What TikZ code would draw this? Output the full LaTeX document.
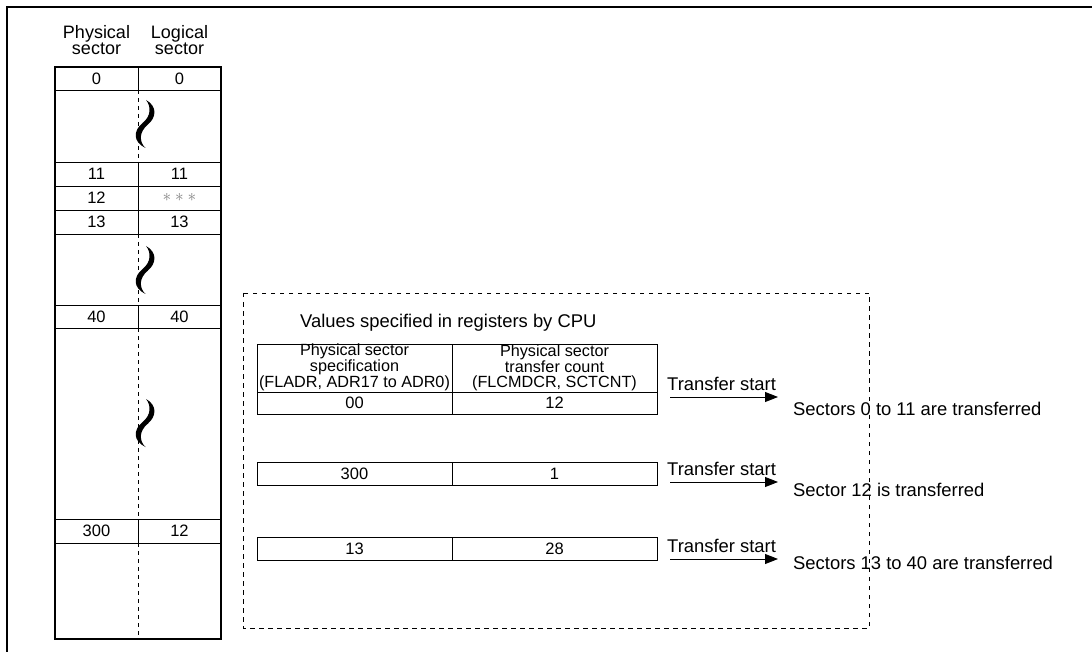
\documentclass[tikz,border=0pt]{standalone}
\usepackage{fontspec}
\setmainfont{Liberation Sans}
\usetikzlibrary{arrows.meta}
\begin{document}
\begin{tikzpicture}[x=1pt,y=-1pt,
  txt/.style={font=\fontsize{18.4}{18.4}\selectfont, inner sep=0pt},
  num/.style={font=\fontsize{16.5}{16.5}\selectfont, inner sep=0pt},
  lhdr/.style={font=\fontsize{18}{16}\selectfont, inner sep=0pt, align=center},
  hdr/.style={font=\fontsize{16.2}{15}\selectfont, inner sep=0pt, align=center},
  frameline/.style={line width=2pt},
  thickline/.style={line width=2.4pt},
  thinline/.style={line width=0.9pt},
  dashline/.style={line width=0.9pt, dash pattern=on 4pt off 4pt},
  boxdash/.style={line width=0.8pt, dash pattern=on 4.5pt off 4.5pt},
  arr/.style={line width=0.9pt, -{Triangle[length=13pt,width=10pt]}}]
\useasboundingbox (0,0) rectangle (1092,652);
% outer frame
\draw[frameline] (7,652) -- (7,7) -- (1092,7);

% ---------- left table ----------
\node[lhdr] (hps) at (96.5,40) {Physical\\sector};
\node[lhdr] (hls) at (179.5,40) {Logical\\sector};
\foreach \y in {90,162,186,210,234,305,328,519,543} \draw[thinline] (55,\y) -- (221,\y);
\draw[thinline] (138,67) -- (138,90);
\draw[thinline] (138,162) -- (138,234);
\draw[thinline] (138,305) -- (138,328);
\draw[thinline] (138,519) -- (138,543);
\draw[dashline] (138,90) -- (138,162);
\draw[dashline] (138,234) -- (138,305);
\draw[dashline] (138,328) -- (138,519);
\draw[dashline] (138,543) -- (138,639);
\draw[thickline] (55,67) rectangle (221,639);
% tildes (tapered filled S-curves)
\foreach \c in {124,270,423}{
  \fill (146,\c-24) .. controls (157,\c-18) and (157,\c-7) .. (147.5,\c+1)
        .. controls (139,\c+8) and (139,\c+18) .. (145.5,\c+24)
        .. controls (133,\c+18) and (133,\c+7) .. (142.5,\c-1)
        .. controls (151.5,\c-8) and (151,\c-18) .. cycle;
}
\node[num] (p0) at (96.5,78.5) {0};
\node[num] (l0) at (179.5,78.5) {0};
\node[num] (p11) at (96.5,174) {11};
\node[num] (l11) at (179.5,174) {11};
\node[num] (p12) at (96.5,198) {12};
\node[inner sep=0pt, text=gray, font=\fontsize{17}{17}\selectfont] (l12) at (179.5,197.5) {$\ast\ast\ast$};
\node[num] (p13) at (96.5,222) {13};
\node[num] (l13) at (179.5,222) {13};
\node[num] (p40) at (96.5,316.5) {40};
\node[num] (l40) at (179.5,316.5) {40};
\node[num] (p300) at (96.5,531) {300};
\node[num] (l300) at (179.5,531) {12};

% ---------- dashed box ----------
\draw[boxdash] (243,293) rectangle (869,628);
\node[txt, anchor=west] (vals) at (300,323) {Values specified in registers by CPU};

% table 1
\draw[thinline] (257,344) rectangle (657,414);
\draw[thinline] (452,344) -- (452,414);
\draw[thinline] (257,392) -- (657,392);
\node[hdr, anchor=south] (h1) at (354.5,391.5) {Physical sector\\specification\\(FLADR, ADR17 to ADR0)};
\node[hdr, anchor=south] (h2) at (554.5,391.5) {Physical sector\\transfer count\\(FLCMDCR, SCTCNT)};
\node[num] (t1a) at (354.5,403) {00};
\node[num] (t1b) at (554.5,403) {12};

% table 2
\draw[thinline] (257,462) rectangle (657,485);
\draw[thinline] (452,462) -- (452,485);
\node[num] (t2a) at (354.5,473.5) {300};
\node[num] (t2b) at (554.5,473.5) {1};

% table 3
\draw[thinline] (257,537) rectangle (657,560);
\draw[thinline] (452,537) -- (452,560);
\node[num] (t3a) at (354.5,548.5) {13};
\node[num] (t3b) at (554.5,548.5) {28};

% transfer arrows
\node[txt, anchor=west] (ts1) at (667,384) {Transfer start};
\coordinate (a1s) at (670,397);
\coordinate (a1e) at (778,397);
\draw[arr] (a1s) -- (a1e);
\node[txt, anchor=west] (r1) at (793,409) {Sectors 0 to 11 are transferred};

\node[txt, anchor=west] (ts2) at (667,469) {Transfer start};
\coordinate (a2s) at (670,482);
\coordinate (a2e) at (778,482);
\draw[arr] (a2s) -- (a2e);
\node[txt, anchor=west] (r2) at (793,490) {Sector 12 is transferred};

\node[txt, anchor=west] (ts3) at (667,546) {Transfer start};
\coordinate (a3s) at (670,559);
\coordinate (a3e) at (778,559);
\draw[arr] (a3s) -- (a3e);
\node[txt, anchor=west] (r3) at (793,563) {Sectors 13 to 40 are transferred};
\end{tikzpicture}
\end{document}
